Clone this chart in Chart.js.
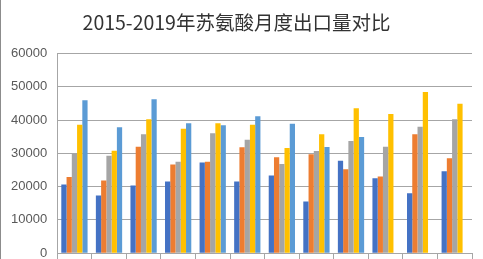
<!DOCTYPE html>
<html>
<head>
<meta charset="utf-8">
<script src="https://cdn.jsdelivr.net/npm/chart.js@4"></script>
<style>
    html, body { margin: 0; padding: 0; background: #fff; overflow: hidden; }
    #wrap { position: relative; width: 483px; height: 271px; border-left: 1px solid #8c8c8c; box-sizing: border-box; }
</style>
</head>
<body>
<div id="wrap"><canvas id="chart"></canvas></div>
<script>
// categories (months) and yearly series
const months = ['1月', '2月', '3月', '4月', '5月', '6月', '7月', '8月', '9月', '10月', '11月', '12月'];
const years = ['2015年', '2016年', '2017年', '2018年', '2019年'];
const y2015 = [20600, 17300, 20300, 21500, 27200, 21500, 23300, 15500, 27800, 22500, 18000, 24600];
const y2016 = [22900, 21800, 32000, 26600, 27500, 31800, 28800, 29700, 25200, 23000, 35700, 28500];
const y2017 = [30100, 29300, 35700, 27500, 36000, 34100, 26800, 30700, 33700, 32000, 38000, 40200];
const y2018 = [38600, 30800, 40200, 37400, 39000, 38600, 31600, 35700, 43500, 41800, 48400, 44900];
const y2019 = [45900, 37800, 46200, 39000, 38400, 41100, 38900, 31900, 34900, null, null, null];
const colors = ['#4472C4', '#ED7D31', '#A5A5A5', '#FFC000', '#5B9BD5'];

const series = [y2015, y2016, y2017, y2018, y2019];

new Chart(document.getElementById('chart'), {
    type: 'bar',
    data: {
        labels: months,
        datasets: series.map((vals, i) => ({
            label: years[i],
            data: vals,
            backgroundColor: colors[i],
            borderWidth: 0,
            barPercentage: 1.0,
            categoryPercentage: 0.76
        }))
    },
    options: {
        responsive: true,
        maintainAspectRatio: false,
        animation: false,
        layout: { padding: { left: 0, right: 11, top: 11, bottom: 0 } },
        plugins: {
            legend: { display: false },
            tooltip: { enabled: false },
            title: {
                display: true,
                text: '2015-2019年苏氨酸月度出口量对比',
                color: '#333333',
                font: { family: "'Noto Sans CJK SC', 'Noto Sans', sans-serif", size: 19.5, weight: 'normal' },
                padding: { top: 0, bottom: 19 }
            }
        },
        scales: {
            x: {
                grid: { display: true, drawOnChartArea: false, drawTicks: true, tickLength: 6, color: '#a6a6a6' },
                border: { color: '#a6a6a6' },
                ticks: { display: false }
            },
            y: {
                min: 0,
                max: 60000,
                ticks: {
                    stepSize: 10000,
                    padding: 10,
                    color: '#595959',
                    font: { family: "'Liberation Sans', Arial, sans-serif", size: 13 },
                    callback: v => String(v)
                },
                grid: { color: '#a6a6a6', drawTicks: false },
                border: { display: true, color: '#a6a6a6' }
            }
        }
    }
});
</script>
</body>
</html>
